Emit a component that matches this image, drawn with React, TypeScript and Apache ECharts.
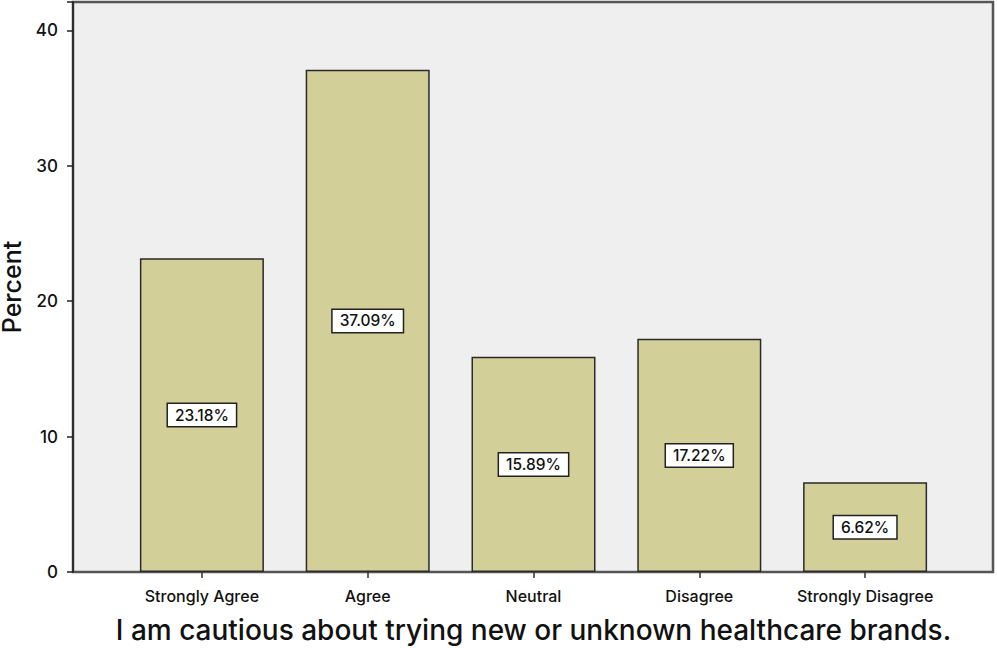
import React, { useEffect, useRef } from "react";
import * as echarts from "echarts";

const categories = ["Strongly Agree", "Agree", "Neutral", "Disagree", "Strongly Disagree"];
const percents = [23.18, 37.09, 15.89, 17.22, 6.62];
const yTicks = [0, 10, 20, 30, 40];
const xTitle = "I am cautious about trying new or unknown healthcare brands.";
const yTitle = "Percent";

const FONT = "Inter";

export default function App() {
  const ref = useRef<HTMLDivElement>(null);
  useEffect(() => {
    if (!ref.current) return;
    const chart = echarts.init(ref.current, null, { renderer: "svg" });
    const top = 2;
    const bottom = 648 - 572;
    chart.setOption({
      animation: false,
      backgroundColor: "#ffffff",
      grid: [
        {
          left: 73,
          right: 4,
          top,
          bottom,
          outerBoundsMode: "none",
          containLabel: false,
          show: true,
          backgroundColor: "#efefef",
          borderColor: "#555555",
          borderWidth: 2.5,
        },
        { left: 119, right: 49, top, bottom, outerBoundsMode: "none", containLabel: false },
      ],
      xAxis: [
        { type: "value", gridIndex: 0, show: false, min: 0, max: 1 },
        {
          type: "category",
          gridIndex: 1,
          data: categories,
          axisLine: { show: false },
          axisTick: { show: true, alignWithLabel: true, interval: 0, length: 6, lineStyle: { color: "#333", width: 1.5 } },
          axisLabel: { color: "#111", fontFamily: FONT, fontWeight: 500, fontSize: 16, margin: 16, interval: 0 },
          name: xTitle,
          nameLocation: "middle",
          nameGap: 44,
          nameTextStyle: { color: "#111", fontFamily: FONT, fontWeight: 500, fontSize: 28 },
        },
      ],
      yAxis: [
        {
          type: "value",
          gridIndex: 0,
          min: 0,
          max: 42.1,
          interval: 10,
          splitLine: { show: false },
          axisLine: { show: true, lineStyle: { color: "#222", width: 1.5 } },
          axisTick: { show: true, length: 6, lineStyle: { color: "#222", width: 1.5 } },
          axisLabel: {
            color: "#111",
            fontFamily: FONT,
            fontWeight: 500,
            fontSize: 17,
            margin: 15,
            formatter: (v: number) => (yTicks.includes(v) ? String(v) : ""),
          },
          name: yTitle,
          nameLocation: "middle",
          nameGap: 38,
          nameRotate: 90,
          nameTextStyle: { color: "#111", fontFamily: FONT, fontWeight: 500, fontSize: 25 },
        },
        { type: "value", gridIndex: 1, min: 0, max: 42.1, show: false, splitLine: { show: false } },
      ],
      series: [
        {
          type: "bar",
          xAxisIndex: 1,
          yAxisIndex: 1,
          data: percents,
          barWidth: 124,
          itemStyle: { color: "#d3cf98", borderColor: "#2a2a2a", borderWidth: 1.5 },
          label: {
            show: true,
            position: "inside",
            formatter: (p: any) => p.value.toFixed(2) + "%",
            color: "#111",
            fontFamily: FONT,
            fontWeight: 500,
            fontSize: 15.5,
            backgroundColor: "#ffffff",
            borderColor: "#222",
            borderWidth: 1.5,
            padding: [3, 7, 3, 7],
          },
        },
      ],
    });
    return () => chart.dispose();
  }, []);
  return <div ref={ref} style={{ width: 997, height: 648, position: "absolute", left: 0, top: 0 }} />;
}
